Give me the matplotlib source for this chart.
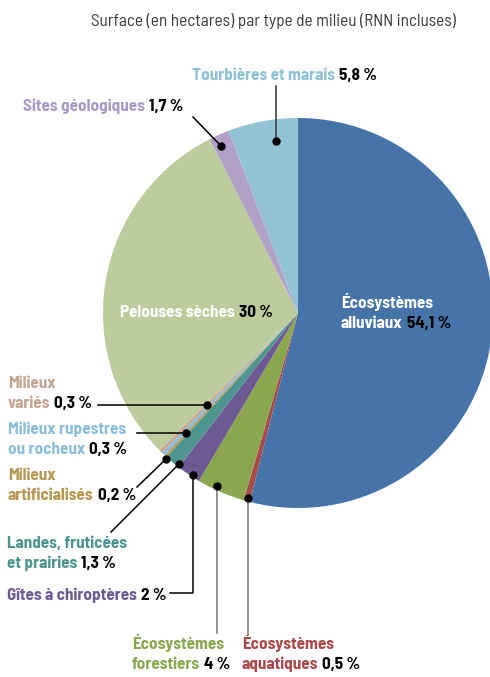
import matplotlib
matplotlib.use("Agg")
import matplotlib.pyplot as plt

# parts in clockwise order starting from 12 o'clock
labels = ["Écosystèmes alluviaux", "Écosystèmes aquatiques", "Écosystèmes forestiers",
          "Gîtes à chiroptères", "Landes, fruticées et prairies", "Milieux artificialisés",
          "Milieux rupestres ou rocheux", "Milieux variés", "Pelouses sèches",
          "Sites géologiques", "Tourbières et marais"]
values = [54.1, 0.5, 4, 2, 1.3, 0.2, 0.3, 0.3, 30, 1.7, 5.8]
pct_text = ["54,1 %", "0,5 %", "4 %", "2 %", "1,3 %", "0,2 %", "0,3 %", "0,3 %", "30 %", "1,7 %", "5,8 %"]
colors = ["#4674a8", "#a84a4a", "#8aa64f", "#6e5a92", "#4e9590", "#b89a52",
          "#8bbcdc", "#c9a893", "#bdcc9c", "#b3a0c8", "#93c3d3"]
text_colors = ["white", "#a84a4a", "#8aa64f", "#6f5a93", "#4e9590", "#b5974f",
               "#8cbedc", "#c4a593", "white", "#a99bc6", "#8fc1d4"]

W, H = 490, 677
fam = ["Barlow Semi Condensed", "Asap Condensed", "DejaVu Sans"]
fig = plt.figure(figsize=(W / 100, H / 100), dpi=100)
ax = fig.add_axes([0, 0, 1, 1])

def Y(py):
    return H - py

ax.pie(values, colors=colors, startangle=90, counterclock=False,
       center=(298, Y(313)), radius=195, frame=True,
       wedgeprops=dict(linewidth=0))
ax.set_xlim(0, W)
ax.set_ylim(0, H)
ax.set_aspect("equal")
ax.axis("off")

fig.canvas.draw()
rend = fig.canvas.get_renderer()

def label(i, x, y, lines, size=12.3):
    # lines: text lines, the percentage goes after the last one
    for k, ln in enumerate(lines):
        t = ax.text(x, Y(y + 20 * k), ln, color=text_colors[i], fontsize=size,
                    fontweight="bold", family=fam, va="baseline", ha="left")
    w = t.get_window_extent(renderer=rend).width
    ax.text(x + w + 4, Y(y + 20 * (len(lines) - 1)), pct_text[i], color="black",
            fontsize=size, fontweight="bold", family=fam, va="baseline", ha="left")

ax.text(273, Y(26), "Surface (en hectares) par type de milieu (RNN incluses)",
        color="#3a3a3a", fontsize=12.4, family=fam, ha="center", va="baseline")

label(10, 192, 80, ["Tourbières et marais"])
label(9, 23, 111, ["Sites géologiques"])
label(8, 120, 317, ["Pelouses sèches"])
label(0, 341, 308, ["Écosystèmes", "alluviaux"])
label(7, 8, 388, ["Milieux", "variés"])
label(6, 8, 434, ["Milieux rupestres", "ou rocheux"])
label(5, 8, 480, ["Milieux", "artificialisés"])
label(4, 7, 548, ["Landes, fruticées", "et prairies"])
label(3, 7, 600, ["Gîtes à chiroptères"])
label(2, 132, 649, ["Écosystèmes", "forestiers"])
label(1, 242, 649, ["Écosystèmes", "aquatiques"])

# leader lines: list of pixel points, last point is the dot
leaders = [
    ([(276, 86), (276, 141)], "#333333"),
    ([(193, 117), (221, 146)], "black"),
    ([(98, 405), (207, 405)], "black"),
    ([(137, 433), (186, 433)], "black"),
    ([(137, 487), (166, 459)], "black"),
    ([(111, 532), (179, 464)], "black"),
    ([(170, 593), (193, 593), (193, 475)], "black"),
    ([(217, 633), (217, 486)], "#777777"),
    ([(248, 633), (248, 498)], "#777777"),
]
for pts, c in leaders:
    xs = [p[0] for p in pts]
    ys = [Y(p[1]) for p in pts]
    ax.plot(xs, ys, color=c, lw=1.1)
    ax.plot(xs[-1], ys[-1], "o", color="black", ms=5)

fig.savefig("out.png", dpi=100)
